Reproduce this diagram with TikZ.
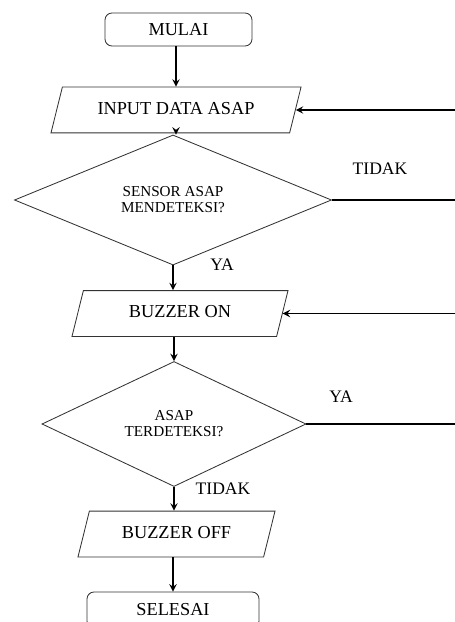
\documentclass[tikz,border=0pt]{standalone}
\usepackage{fontspec}
\setmainfont{Liberation Serif}
\usepackage{tikz}
\usetikzlibrary{shapes.geometric, arrows}
\tikzstyle{startstop} = [rectangle, rounded corners=5pt, text centered, draw=black!80, line width=0.6pt, font=\fontsize{13}{15}\selectfont]
\tikzstyle{io} = [trapezium, trapezium left angle=76, trapezium right angle=104, trapezium stretches body=true, inner xsep=0pt, inner ysep=10.3pt, text height=9pt, text depth=3pt, text centered, draw=black!80, line width=0.6pt, font=\fontsize{13}{15}\selectfont]
\tikzstyle{decision} = [diamond, inner sep=0pt, align=center, draw=black!80, line width=0.6pt, font=\fontsize{10.8}{11.4}\selectfont]
\tikzstyle{label} = [font=\fontsize{12.5}{14}\selectfont]
\tikzstyle{arrow} = [line width=1.3pt,->,>=stealth]
\tikzstyle{line} = [line width=1.3pt]

\begin{document}
\begin{tikzpicture}[x=0.025cm, y=-0.025cm]
\useasboundingbox (0,0) rectangle (454,622);

\node[startstop, minimum width=3.675cm, minimum height=0.825cm] (mulai) at (178.5,29.5) {MULAI};
\node[io, minimum width=6.25cm] (input) at (176,110) {INPUT DATA ASAP};
\node[decision, minimum width=7.925cm, minimum height=2.4cm] (dsensor) at (173,200) {SENSOR ASAP\\MENDETEKSI?};
\node[io, minimum width=5.4cm] (bon) at (180,313.5) {BUZZER ON};
\node[decision, minimum width=6.6cm, minimum height=2.35cm] (dasap) at (174,424) {ASAP\\TERDETEKSI?};
\node[io, minimum width=4.925cm] (boff) at (176.5,534) {BUZZER OFF};
\node[startstop, minimum width=4.3cm, minimum height=0.9cm] (selesai) at (173,610) {SELESAI};

\node[label] (ltidak1) at (380,169) {TIDAK};
\node[label] (lya1) at (222,265) {YA};
\node[label] (lya2) at (341,397) {YA};
\node[label] (ltidak2) at (223,489) {TIDAK};

\coordinate (kanan) at (456,0);

\draw[arrow] (input.north |- mulai.south) -- (input.north);
\draw[arrow] (input.south) -- (input.south |- dsensor.north);
\draw[arrow] (dsensor.south) -- (dsensor.south |- bon.north);
\draw[arrow] (dasap.north |- bon.south) -- (dasap.north);
\draw[arrow] (dasap.south) -- (dasap.south |- boff.north);
\draw[arrow] (selesai.north |- boff.south) -- (selesai.north);

\draw[line] (dsensor.east) -- (dsensor.east -| kanan);
\draw[line] (dasap.east) -- (dasap.east -| kanan);
\draw[arrow] (input.east -| kanan) -- (input.east);
\draw[arrow] (bon.east -| kanan) -- (bon.east);
\end{tikzpicture}
\end{document}
